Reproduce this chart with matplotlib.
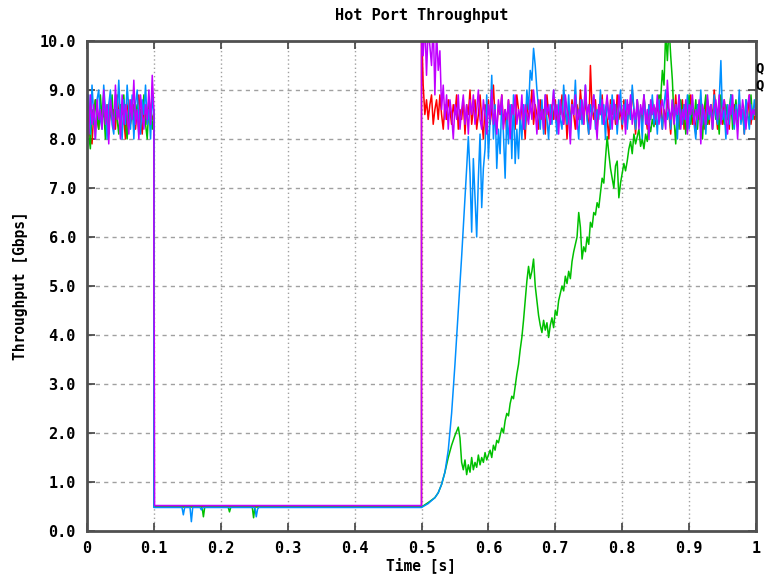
import numpy as np
import matplotlib
matplotlib.use("Agg")
import matplotlib.pyplot as plt

plt.rcParams['font.family'] = ['DejaVu Sans Mono']
plt.rcParams['font.weight'] = 'bold'

# steady phase before the hot-port burst, sampled every 2.5 ms
head_t = np.arange(41) * 0.0025

red_head = [8.6, 8.3, 8.0, 7.9, 8.5, 8.8, 8.4, 8.2, 8.7, 8.5,
            8.9, 8.3, 8.6, 8.1, 8.8, 8.4, 8.6, 8.2, 8.9, 8.5,
            8.3, 8.7, 8.4, 8.0, 8.6, 8.8, 8.3, 8.5, 8.7, 8.2,
            8.6, 8.9, 8.4, 8.1, 8.7, 8.5, 8.3, 8.8, 8.6, 8.4,
            8.5]
green_head = [8.4, 8.1, 7.8, 8.6, 8.3, 8.8, 8.5, 8.2, 8.9, 8.4,
              8.6, 8.0, 8.7, 8.3, 8.5, 8.9, 8.2, 8.6, 8.4, 8.1,
              8.7, 8.5, 8.9, 8.3, 8.0, 8.6, 8.4, 8.8, 8.2, 8.5,
              8.7, 8.1, 8.6, 8.4, 8.9, 8.3, 8.0, 8.7, 8.5, 8.2,
              8.6]
blue_head = [8.3, 8.9, 8.1, 9.1, 8.5, 8.0, 8.8, 9.0, 8.4, 8.2,
             9.1, 8.6, 8.0, 8.7, 9.0, 8.3, 8.1, 8.9, 8.5, 9.2,
             8.4, 8.0, 8.8, 8.3, 9.1, 8.6, 8.2, 8.9, 8.0, 8.7,
             9.0, 8.4, 8.1, 8.8, 8.5, 9.1, 8.3, 8.6, 8.0, 8.9,
             8.5]
magenta_head = [8.5, 8.1, 8.9, 8.3, 8.7, 8.0, 8.8, 8.4, 8.6, 8.2,
                9.0, 8.3, 8.7, 7.9, 8.8, 8.5, 8.2, 9.1, 8.4, 8.6,
                8.0, 8.9, 8.3, 8.7, 8.5, 8.1, 8.8, 8.4, 9.2, 8.3,
                8.6, 8.0, 8.9, 8.5, 8.2, 8.7, 8.4, 9.0, 8.3, 9.3,
                8.6]

# hot-port phase (0.1 s .. 0.5 s)
red_mid_t = [0.1, 0.5]
red_mid = [0.5, 0.5]
green_mid_t = [0.1, 0.172, 0.174, 0.176, 0.211, 0.213, 0.215, 0.247, 0.249, 0.251, 0.5]
green_mid = [0.49, 0.49, 0.29, 0.49, 0.49, 0.39, 0.49, 0.49, 0.27, 0.49, 0.49]
blue_mid_t = [0.1, 0.142, 0.144, 0.146, 0.154, 0.156, 0.158, 0.169, 0.171, 0.173,
              0.251, 0.253, 0.255, 0.257, 0.5]
blue_mid = [0.48, 0.48, 0.33, 0.48, 0.48, 0.19, 0.48, 0.48, 0.43, 0.48,
            0.48, 0.29, 0.45, 0.48, 0.48]
magenta_mid_t = [0.1, 0.1005, 0.101, 0.5]
magenta_mid = [4.6, 4.1, 0.52, 0.52]

# recovery: smooth ramps of the slow flows
blue_rise_t = [0.51, 0.52, 0.525, 0.53, 0.535, 0.54, 0.545, 0.55, 0.555, 0.56, 0.5625, 0.565, 0.5675]
blue_rise = [0.56, 0.68, 0.78, 0.95, 1.20, 1.65, 2.40, 3.40, 4.50, 5.60, 6.20, 6.80, 7.40]
green_rise_t = [0.51, 0.52, 0.525, 0.53, 0.535, 0.54, 0.545, 0.55, 0.555]
green_rise = [0.58, 0.68, 0.78, 0.95, 1.20, 1.50, 1.75, 1.95, 2.12]

# recovery samples, 2.5 ms apart
red_tail_t = 0.5 + np.arange(201) * 0.0025
red_tail = [10.4, 9.1, 8.5, 8.8, 8.4, 8.7, 8.9, 8.3, 8.6, 8.8,
            8.4, 8.9, 8.5, 8.2, 8.7, 8.4, 8.8, 8.6, 8.3, 8.7,
            8.5, 8.9, 8.2, 8.6, 8.4, 8.8, 8.1, 8.7, 8.5, 9.0,
            8.3, 8.6, 8.8, 8.2, 8.5, 8.9, 8.4, 8.0, 8.7, 8.5,
            8.8, 8.3, 8.6, 9.1, 8.4, 8.2, 8.7, 8.5, 8.9, 8.3,
            8.6, 8.1, 8.8, 8.4, 8.7, 8.5, 8.2, 8.9, 8.6, 8.3,
            8.7, 8.5, 8.0, 8.8, 8.4, 8.6, 9.0, 8.3, 8.7, 8.5,
            8.2, 8.8, 8.4, 8.6, 8.1, 8.9, 8.5, 8.3, 8.7, 8.4,
            8.8, 8.2, 8.6, 8.5, 8.9, 8.3, 8.7, 8.0, 8.6, 8.4,
            8.8, 8.5, 8.2, 8.7, 8.4, 9.0, 8.6, 8.3, 8.8, 8.5,
            8.1, 9.5, 8.6, 8.4, 8.8, 8.2, 8.7, 8.5, 8.9, 8.3,
            8.6, 8.4, 8.0, 8.8, 8.5, 8.7, 8.3, 8.9, 8.4, 8.6,
            8.2, 8.8, 8.5, 8.3, 8.7, 8.4, 9.0, 8.6, 8.1, 8.8,
            8.4, 8.6, 8.3, 8.9, 8.5, 8.2, 8.7, 8.4, 8.8, 8.5,
            8.3, 8.7, 8.5, 8.9, 8.2, 8.6, 8.4, 8.8, 8.5, 8.1,
            8.7, 8.4, 8.9, 8.3, 8.6, 8.5, 8.8, 8.2, 8.7, 8.4,
            8.6, 8.9, 8.3, 8.5, 8.1, 8.7, 8.4, 8.8, 8.6, 8.2,
            8.8, 8.5, 8.3, 8.7, 8.4, 9.0, 8.6, 8.2, 8.7, 8.5,
            8.3, 8.8, 8.5, 8.6, 8.2, 8.9, 8.4, 8.7, 8.5, 8.3,
            8.8, 8.4, 8.6, 8.1, 8.7, 8.5, 8.9, 8.3, 8.6, 8.4,
            8.5]
magenta_tail = [10.5, 9.7, 10.4, 9.3, 10.3, 9.9, 9.5, 10.4, 8.9, 10.2,
                9.4, 9.8, 8.6, 9.1, 8.4, 8.9, 8.2, 8.8, 8.5, 8.0,
                8.7, 8.4, 8.9, 8.2, 8.6, 8.9, 8.3, 8.7, 8.1, 8.8,
                8.5, 8.9, 8.3, 8.6, 9.0, 8.4, 8.2, 8.8, 8.5, 8.1,
                8.7, 8.4, 9.0, 8.3, 8.6, 8.1, 8.8, 8.5, 8.9, 8.2,
                8.6, 8.4, 8.8, 8.0, 8.7, 8.5, 8.9, 8.3, 8.6, 8.4,
                8.9, 8.2, 8.7, 8.5, 8.3, 8.8, 8.4, 9.0, 8.6, 8.1,
                8.8, 8.4, 8.6, 8.2, 8.9, 8.5, 8.7, 8.3, 8.6, 9.0,
                8.4, 8.7, 8.1, 8.8, 8.5, 8.3, 8.9, 8.6, 8.4, 7.9,
                8.7, 8.5, 8.9, 8.2, 8.6, 8.4, 8.8, 8.3, 9.1, 8.5,
                8.7, 8.2, 8.6, 8.9, 8.4, 8.0, 8.7, 8.5, 8.8, 8.3,
                8.6, 8.9, 8.4, 8.7, 8.2, 8.8, 8.5, 8.3, 8.9, 8.6,
                8.4, 8.7, 8.1, 8.8, 8.5, 8.9, 8.3, 8.6, 8.4, 8.8,
                8.2, 8.7, 8.5, 8.9, 8.3, 8.6, 8.0, 8.8, 8.5, 8.7,
                8.4, 8.9, 8.3, 8.6, 8.8, 8.5, 8.2, 9.2, 8.6, 8.4,
                8.8, 8.3, 8.7, 8.5, 8.9, 8.2, 8.6, 8.4, 8.8, 8.1,
                8.7, 8.5, 8.9, 8.3, 8.6, 8.4, 8.8, 7.9, 8.7, 8.5,
                8.3, 8.9, 8.5, 8.7, 8.2, 8.6, 8.8, 8.4, 8.9, 8.3,
                8.6, 8.8, 8.4, 8.1, 8.7, 8.5, 8.9, 8.3, 8.6, 8.0,
                8.7, 8.4, 8.8, 8.5, 8.2, 8.7, 8.9, 8.4, 8.6, 8.5,
                8.7]
blue_tail_t = 0.57 + np.arange(173) * 0.0025
blue_tail = [8.05, 7.30, 6.10, 7.60, 6.80, 6.00, 7.20, 8.10, 6.60, 7.40,
             7.80, 8.90, 7.60, 8.40, 9.30, 8.00, 8.70, 7.40, 8.20, 7.70,
             8.80, 8.10, 7.20, 8.50, 7.90, 8.70, 7.60, 8.90, 7.50, 8.20,
             7.60, 8.50, 8.00, 8.70, 8.20, 9.00, 8.60, 9.40, 9.20, 9.85,
             9.50, 9.00, 8.60, 8.20, 8.80, 8.10, 8.90, 8.40, 8.00, 8.70,
             8.30, 9.00, 8.50, 8.10, 8.80, 8.40, 8.20, 9.10, 8.60, 8.30,
             8.90, 8.20, 8.70, 8.50, 9.20, 8.40, 8.00, 8.80, 8.30, 8.60,
             9.10, 8.40, 8.10, 8.70, 8.50, 8.90, 8.20, 8.60, 8.40, 9.00,
             8.30, 8.70, 8.00, 8.80, 8.50, 8.20, 8.90, 8.40, 8.70, 8.10,
             8.60, 9.00, 8.30, 8.50, 8.80, 8.20, 8.70, 8.40, 9.10, 8.60,
             8.20, 8.80, 8.40, 8.60, 8.00, 8.90, 8.50, 8.30, 8.70, 8.40,
             8.90, 8.30, 8.60, 8.10, 8.80, 8.50, 8.20, 8.70, 9.00, 8.40,
             8.60, 8.20, 8.80, 8.40, 8.70, 8.00, 8.90, 8.50, 8.30, 8.70,
             8.40, 8.90, 8.20, 8.60, 8.80, 8.30, 8.00, 8.70, 8.50, 9.00,
             8.30, 8.60, 8.10, 8.80, 8.40, 8.70, 8.20, 8.90, 8.50, 8.30,
             8.80, 9.60, 8.40, 8.60, 8.00, 8.70, 8.30, 8.90, 8.50, 8.20,
             8.70, 8.40, 9.00, 8.30, 8.60, 8.10, 8.80, 8.50, 8.20, 8.70,
             8.40, 8.80, 8.50]
green_tail_t = 0.5575 + np.arange(178) * 0.0025
green_tail = [1.90, 1.40, 1.25, 1.45, 1.15, 1.35, 1.20, 1.50, 1.25, 1.40,
              1.30, 1.55, 1.35, 1.50, 1.40, 1.60, 1.45, 1.55, 1.65, 1.50,
              1.75, 1.65, 1.85, 1.80, 1.95, 2.10, 2.00, 2.25, 2.40, 2.35,
              2.60, 2.75, 2.70, 2.95, 3.20, 3.40, 3.70, 3.95, 4.30, 4.70,
              5.10, 5.40, 5.15, 5.30, 5.55, 5.00, 4.70, 4.40, 4.20, 4.05,
              4.30, 4.10, 4.25, 3.95, 4.20, 4.35, 4.15, 4.50, 4.40, 4.70,
              4.85, 5.00, 4.90, 5.20, 5.05, 5.30, 5.15, 5.50, 5.70, 5.85,
              6.00, 6.50, 6.20, 5.55, 5.80, 5.70, 6.00, 5.85, 6.30, 6.20,
              6.50, 6.45, 6.70, 6.60, 6.90, 7.20, 7.10, 7.60, 8.05, 7.70,
              7.40, 7.20, 7.00, 7.45, 7.55, 6.80, 7.10, 7.30, 7.50, 7.35,
              7.55, 7.80, 7.95, 7.70, 8.10, 7.90, 8.05, 8.20, 7.85, 8.00,
              7.80, 8.10, 7.95, 8.30, 8.15, 8.40, 8.25, 8.60, 8.70, 8.90,
              8.80, 9.40, 9.10, 10.20, 9.60, 10.30, 9.70, 9.20, 8.40, 7.90,
              8.60, 8.20, 8.80, 8.40, 8.70, 8.10, 8.50, 8.90, 8.30, 8.60,
              8.40, 8.80, 8.20, 8.70, 8.50, 8.00, 8.60, 8.90, 8.30, 8.50,
              8.70, 8.20, 8.80, 8.40, 8.60, 8.10, 8.90, 8.50, 8.30, 8.70,
              8.40, 8.60, 8.90, 8.20, 8.50, 8.80, 8.30, 8.70, 8.40, 8.60,
              8.20, 8.80, 8.50, 8.30, 8.90, 8.40, 8.60, 8.50]

series = [
    ('#ff0000', [(head_t, red_head), (red_mid_t, red_mid), (red_tail_t, red_tail)]),
    ('#00c000', [(head_t, green_head), (green_mid_t, green_mid),
                 (green_rise_t, green_rise), (green_tail_t, green_tail)]),
    ('#0090ff', [(head_t, blue_head), (blue_mid_t, blue_mid),
                 (blue_rise_t, blue_rise), (blue_tail_t, blue_tail)]),
    ('#c000ff', [(head_t, magenta_head), (magenta_mid_t, magenta_mid),
                 (red_tail_t, magenta_tail)]),
]

fig = plt.figure(figsize=(7.64, 5.79), dpi=100)
ax = fig.add_axes([87/764, 48/579, 669/764, 490/579])

for color, parts in series:
    t = np.concatenate([p[0] for p in parts])
    v = np.concatenate([p[1] for p in parts])
    ax.plot(t, v, color=color, lw=1.1)

ax.set_xlim(0, 1)
ax.set_ylim(0, 10)
xt = np.arange(0, 1.01, 0.1)
ax.set_xticks(xt)
ax.set_xticklabels(['0'] + ['%.1f' % x for x in xt[1:-1]] + ['1'])
yt = np.arange(0, 11, 1)
ax.set_yticks(yt)
ax.set_yticklabels(['%.1f' % y for y in yt])

for y in yt[1:-1]:
    ax.axhline(y, color='#a0a0a0', lw=1, ls=(0, (3, 3)), zorder=0)
for x in xt[1:-1]:
    ax.axvline(x, color='#a0a0a0', lw=1, ls=(0, (1, 2)), zorder=0)

ax.tick_params(direction='in', length=6, width=1.2, top=True, right=True,
               labelsize=11, pad=8, color='#404040')
ax.tick_params(axis='x', pad=7)
for s in ax.spines.values():
    s.set_color('#505050')
    s.set_linewidth(2)

ax.set_title('Hot Port Throughput', fontsize=11, fontweight='bold', pad=15)
ax.set_xlabel('Time [s]', fontsize=10.5, fontweight='bold', labelpad=1)
ax.set_ylabel('Throughput [Gbps]', fontsize=10.5, fontweight='bold', labelpad=8)

# key labels at the right edge of the canvas
fig.text(755/764, 1 - 68/579, 'Q', fontsize=10, fontweight='bold', va='center')
fig.text(755/764, 1 - 85/579, 'Q', fontsize=10, fontweight='bold', va='center')

fig.savefig('out.png', dpi=100)
